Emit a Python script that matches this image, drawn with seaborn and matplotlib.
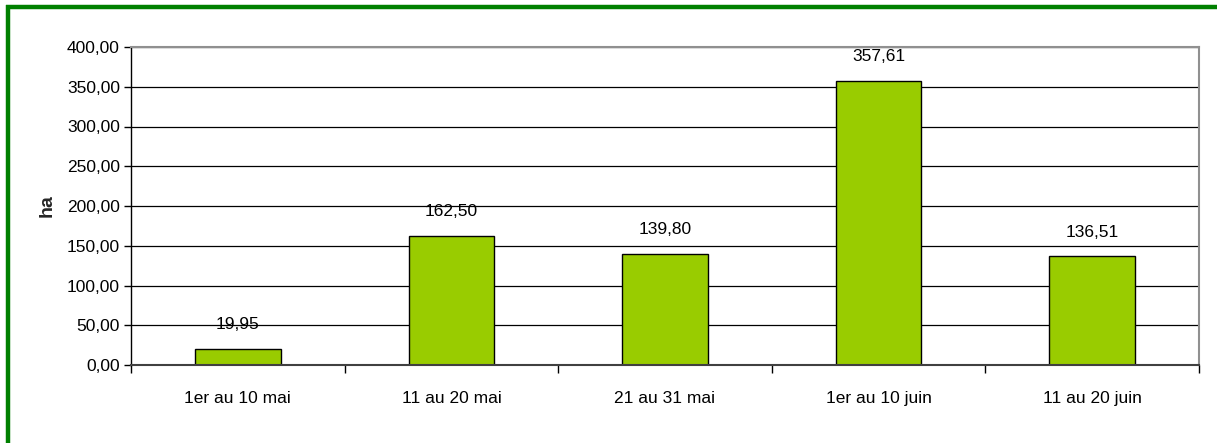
import matplotlib
matplotlib.use("Agg")
import matplotlib.pyplot as plt
import seaborn as sns
import pandas as pd
from matplotlib.lines import Line2D
from matplotlib.ticker import FuncFormatter, MultipleLocator

categories = ["1er au 10 mai", "11 au 20 mai", "21 au 31 mai", "1er au 10 juin", "11 au 20 juin"]
values = [19.95, 162.50, 139.80, 357.61, 136.51]
value_labels = ["19,95", "162,50", "139,80", "357,61", "136,51"]

sns.set_theme(style="white")
plt.rcParams['font.family'] = ['Liberation Sans', 'DejaVu Sans']
FS = 12.5

fig = plt.figure(figsize=(12.17, 4.43), dpi=100)
ax = fig.add_axes([131/1217, 1-365/443, (1199-131)/1217, (365-47)/443])

df = pd.DataFrame({"cat": categories, "val": values})
sns.barplot(data=df, x="cat", y="val", color="#99CC00", edgecolor="black",
            linewidth=1.0, width=0.4, saturation=1, ax=ax)

ax.set_ylim(0, 400)
ax.set_xlim(-0.5, len(categories) - 0.5)
ax.yaxis.set_major_locator(MultipleLocator(50))
ax.yaxis.set_major_formatter(FuncFormatter(lambda v, p: f"{v:.2f}".replace(".", ",")))
ax.set_axisbelow(True)
ax.grid(axis="y", color="black", linewidth=0.9)
ax.grid(axis="x", visible=False)

for i, (v, t) in enumerate(zip(values, value_labels)):
    ax.annotate(t, (i, v), xytext=(0, 12), textcoords="offset points",
                ha="center", va="bottom", fontsize=FS, color="black")

ax.set_xlabel("")
ax.set_ylabel("ha", fontsize=14, fontweight="bold", labelpad=8)
ax.tick_params(axis="y", labelsize=FS, length=5, width=1, color="black", direction="out", left=True, pad=3, labelcolor="black")
ax.set_xticks(range(len(categories)))
ax.set_xticklabels(categories, fontsize=FS, color="black")
ax.tick_params(axis="x", length=0, pad=19)
ax.set_xticks([i - 0.5 for i in range(len(categories) + 1)], minor=True)
ax.tick_params(axis="x", which="minor", length=6, width=1, color="black", direction="out", bottom=True)

ax.spines["left"].set_color("black")
ax.spines["left"].set_linewidth(1)
ax.spines["bottom"].set_color("#404040")
ax.spines["bottom"].set_linewidth(1.5)
for s in ["top", "right"]:
    ax.spines[s].set_visible(True)
    ax.spines[s].set_color("#909090")
    ax.spines[s].set_linewidth(1.5)

fig.add_artist(Line2D([8/1217, 8/1217], [0, 1-5/443], transform=fig.transFigure, color="#008000", linewidth=3.2, solid_capstyle="butt"))
fig.add_artist(Line2D([6/1217, 1], [1-6.5/443, 1-6.5/443], transform=fig.transFigure, color="#008000", linewidth=3.2, solid_capstyle="butt"))

fig.savefig("out.png", dpi=100, facecolor="white")
